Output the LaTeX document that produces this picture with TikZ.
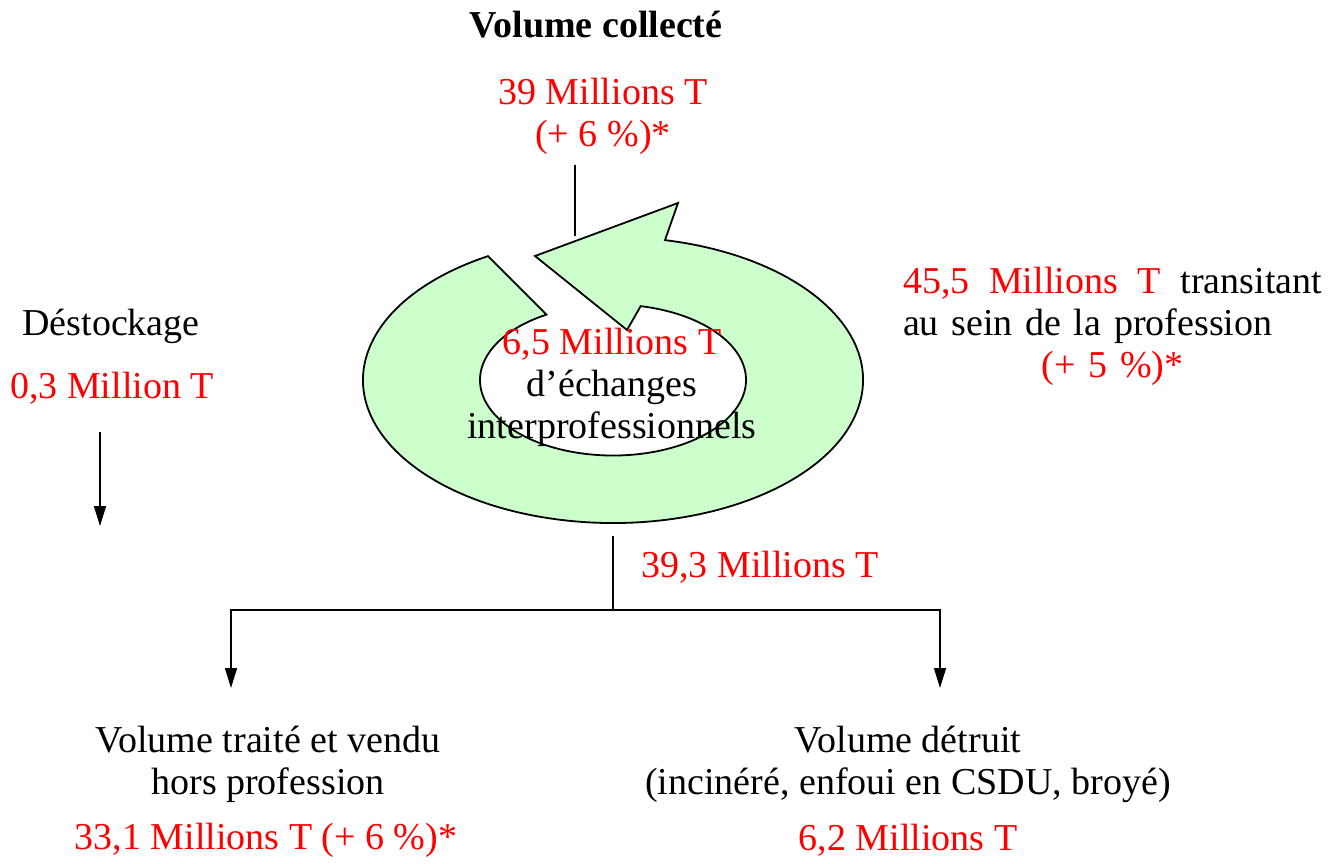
\documentclass[tikz,border=0pt]{standalone}
\usepackage{fontspec}
\setmainfont{Liberation Serif}
\usetikzlibrary{arrows.meta}
\definecolor{ringgreen}{RGB}{204,255,204}

\begin{document}
\begin{tikzpicture}[x=0.5pt, y=-0.5pt,
	txt/.style = {font=\fontsize{19}{21}\selectfont, align=center, inner sep=0pt},
	num/.style = {txt, text=red},
	title/.style = {txt, font=\fontsize{19}{21}\selectfont\bfseries},
	line/.style = {draw, line width=0.8pt},
	flow/.style = {line, -{Triangle[width=6pt,length=10pt]}}]
	\useasboundingbox (0,0) rectangle (1343,863);
	% the ring
	\coordinate (mid) at (613,380);
	\filldraw[fill=ringgreen, line width=0.9pt, line join=miter]
		(535,256) -- (678,203) -- ([shift={(78:125pt and 71.5pt)}]mid)
		arc[start angle=78, end angle=-240, x radius=125pt, y radius=71.5pt]
		-- ([shift={(120:66.5pt and 37.75pt)}]mid)
		arc[start angle=120, end angle=438, x radius=66.5pt, y radius=37.75pt]
		-- (627,330) -- cycle;
	\node[txt] (echanges) at (612,387) {\textcolor{red}{6,5 Millions T}\\d’échanges\\interprofessionnels};
	% top
	\node[title] (collecte) at (596,25) {Volume collecté};
	\node[num] (c39) at (603,116) {39 Millions T\\(+ 6 \%)*};
	\coordinate (entree) at (575,236);
	\draw[line] ([yshift=-5pt]c39.south -| entree) -- (entree);
	% right
	\node[txt, align=left, text width=209.5pt] (transit) at (1112.5,326)
		{\textcolor{red}{45,5} \hfill \textcolor{red}{Millions} \hfill \textcolor{red}{T} \hfill transitant\\
		au sein de la profession\\
		\hfill\textcolor{red}{(+ 5 \%)*}\hfill\null};
	% left
	\node[txt] (destock) at (111,326) {Déstockage};
	\node[num] (d03) at (112,388) {0,3 Million T};
	\coordinate (destockin) at (100,432);
	\coordinate (destockout) at (100,526);
	\draw[flow] (destockin) -- (destockout);
	% bottom
	\coordinate (sortie) at (613,536);
	\coordinate (split) at (613,610);
	\coordinate (traitein) at (231,688);
	\coordinate (detruitin) at (940,688);
	\draw[line] (sortie) -- (split);
	\node[num] (s393) at (760,567) {39,3 Millions T};
	\draw[flow] (split) -| (traitein);
	\draw[flow] (split) -| (detruitin);
	\node[txt] (traite) at (268,764) {Volume traité et vendu\\hors profession};
	\node[num] (t331) at (266,840) {33,1 Millions T (+ 6 \%)*};
	\node[txt] (detruit) at (908,764) {Volume détruit\\(incinéré, enfoui en CSDU, broyé)};
	\node[num] (d62) at (908,840) {6,2 Millions T};
\end{tikzpicture}
\end{document}
